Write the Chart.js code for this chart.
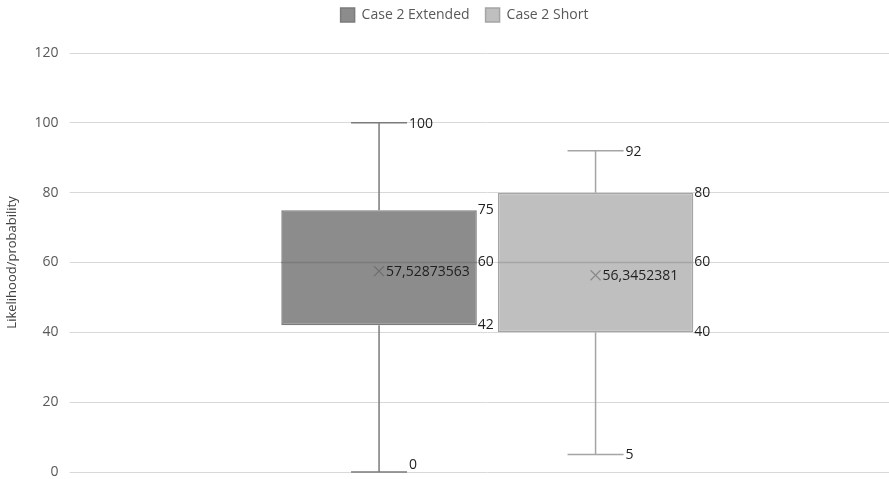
<!DOCTYPE html>
<html>
<head>
<meta charset="utf-8">
<script src="https://cdn.jsdelivr.net/npm/chart.js@4.4.1/dist/chart.umd.min.js"></script>
<style>
  html, body { margin: 0; padding: 0; background: #fff; }
  #wrap { width: 889px; height: 479px; }
</style>
</head>
<body>
<div id="wrap"><canvas id="boxChart"></canvas></div>
<script>
// box plot stats
const seriesNames = ["Case 2 Extended", "Case 2 Short"];
const minValues = [0, 5];
const q1Values = [42, 40];
const medianValues = [60, 60];
const q3Values = [75, 80];
const maxValues = [100, 92];
const meanValues = [57.52873563, 56.3452381];
const meanLabels = ["57,52873563", "56,3452381"];
const yTicks = [0, 20, 40, 60, 80, 100, 120];

const fillColors = ["#8c8c8c", "#bfbfbf"];
const lineColors = ["#7b7b7b", "#a5a5a5"];

// extra room under the legend, and nudge it to where Excel put it
const legendTweak = {
  id: "legendTweak",
  beforeInit(chart) {
    const legend = chart.legend;
    const fit = legend.fit;
    legend.fit = function () {
      fit.bind(legend)();
      this.height += 13;
    };
    const draw = legend.draw;
    legend.draw = function () {
      chart.ctx.save();
      chart.ctx.translate(20, -8);
      draw.apply(legend, arguments);
      chart.ctx.restore();
    };
  }
};

// whiskers, median, mean and the value labels
const boxExtras = {
  id: "boxExtras",
  afterDatasetsDraw(chart) {
    const ctx = chart.ctx;
    const y = chart.scales.y;
    ctx.save();
    ctx.font = "14px 'Open Sans', sans-serif";
    ctx.textBaseline = "middle";
    ctx.textAlign = "left";
    chart.data.datasets.forEach((ds, i) => {
      const bar = chart.getDatasetMeta(i).data[0];
      const cx = bar.x;
      const half = bar.width / 2;
      const capHalf = 28;
      ctx.strokeStyle = lineColors[i];
      ctx.lineWidth = 1.5;
      ctx.beginPath();
      // upper whisker
      ctx.moveTo(cx, y.getPixelForValue(q3Values[i]));
      ctx.lineTo(cx, y.getPixelForValue(maxValues[i]));
      ctx.moveTo(cx - capHalf, y.getPixelForValue(maxValues[i]));
      ctx.lineTo(cx + capHalf, y.getPixelForValue(maxValues[i]));
      // lower whisker
      ctx.moveTo(cx, y.getPixelForValue(q1Values[i]));
      ctx.lineTo(cx, y.getPixelForValue(minValues[i]));
      ctx.moveTo(cx - capHalf, y.getPixelForValue(minValues[i]));
      ctx.lineTo(cx + capHalf, y.getPixelForValue(minValues[i]));
      // median
      ctx.moveTo(cx - half, y.getPixelForValue(medianValues[i]));
      ctx.lineTo(cx + half, y.getPixelForValue(medianValues[i]));
      ctx.stroke();

      // mean marker
      const my = y.getPixelForValue(meanValues[i]);
      ctx.strokeStyle = i === 0 ? "#6e6e6e" : "#8a8a8a";
      ctx.lineWidth = 1.2;
      ctx.beginPath();
      ctx.moveTo(cx - 5, my - 5); ctx.lineTo(cx + 5, my + 5);
      ctx.moveTo(cx + 5, my - 5); ctx.lineTo(cx - 5, my + 5);
      ctx.stroke();

      ctx.fillStyle = "#1f1f1f";
      ctx.fillText(meanLabels[i], cx + 7, my + 1);
      ctx.fillText(String(q3Values[i]), cx + half + 1, y.getPixelForValue(q3Values[i]));
      ctx.fillText(String(medianValues[i]), cx + half + 1, y.getPixelForValue(medianValues[i]));
      ctx.fillText(String(q1Values[i]), cx + half + 1, y.getPixelForValue(q1Values[i]));
      ctx.fillText(String(maxValues[i]), cx + capHalf + 2, y.getPixelForValue(maxValues[i]) + 1);
      ctx.fillText(String(minValues[i]), cx + capHalf + 2, y.getPixelForValue(minValues[i]) - (minValues[i] === 0 ? 7 : 0));
    });
    ctx.restore();
  }
};

const datasets = seriesNames.map((name, i) => ({
  label: name,
  data: [[q1Values[i], q3Values[i]]],
  backgroundColor: fillColors[i],
  borderColor: lineColors[i],
  borderWidth: 1.5,
  borderSkipped: false,
  barPercentage: 0.903,
  categoryPercentage: 0.539
}));

const ctx = document.getElementById("boxChart").getContext("2d");
new Chart(ctx, {
  type: "bar",
  data: { labels: [""], datasets: datasets },
  options: {
    responsive: true,
    maintainAspectRatio: false,
    animation: false,
    layout: { padding: { left: 0, right: 0, top: 0, bottom: 7 } },
    plugins: {
      legend: {
        position: "top",
        labels: {
          boxWidth: 14,
          boxHeight: 14,
          padding: 16,
          color: "#595959",
          font: { family: "'Open Sans', sans-serif", size: 14 }
        }
      },
      tooltip: { enabled: false }
    },
    scales: {
      x: {
        display: false
      },
      y: {
        min: 0,
        max: 120,
        afterBuildTicks: (axis) => { axis.ticks = yTicks.map(v => ({ value: v })); },
        afterFit: (axis) => { axis.paddingTop = 0; axis.paddingBottom = 0; },
        grid: { color: "#d9d9d9", lineWidth: 1, drawTicks: true, tickLength: 16, tickColor: "#d9d9d9" },
        border: { display: false },
        ticks: {
          padding: 11,
          color: "#595959",
          font: { family: "'Open Sans', sans-serif", size: 14 }
        },
        title: {
          display: true,
          text: "Likelihood/probability",
          color: "#404040",
          font: { family: "'Open Sans', sans-serif", size: 13 }
        }
      }
    }
  },
  plugins: [legendTweak, boxExtras]
});
</script>
</body>
</html>
